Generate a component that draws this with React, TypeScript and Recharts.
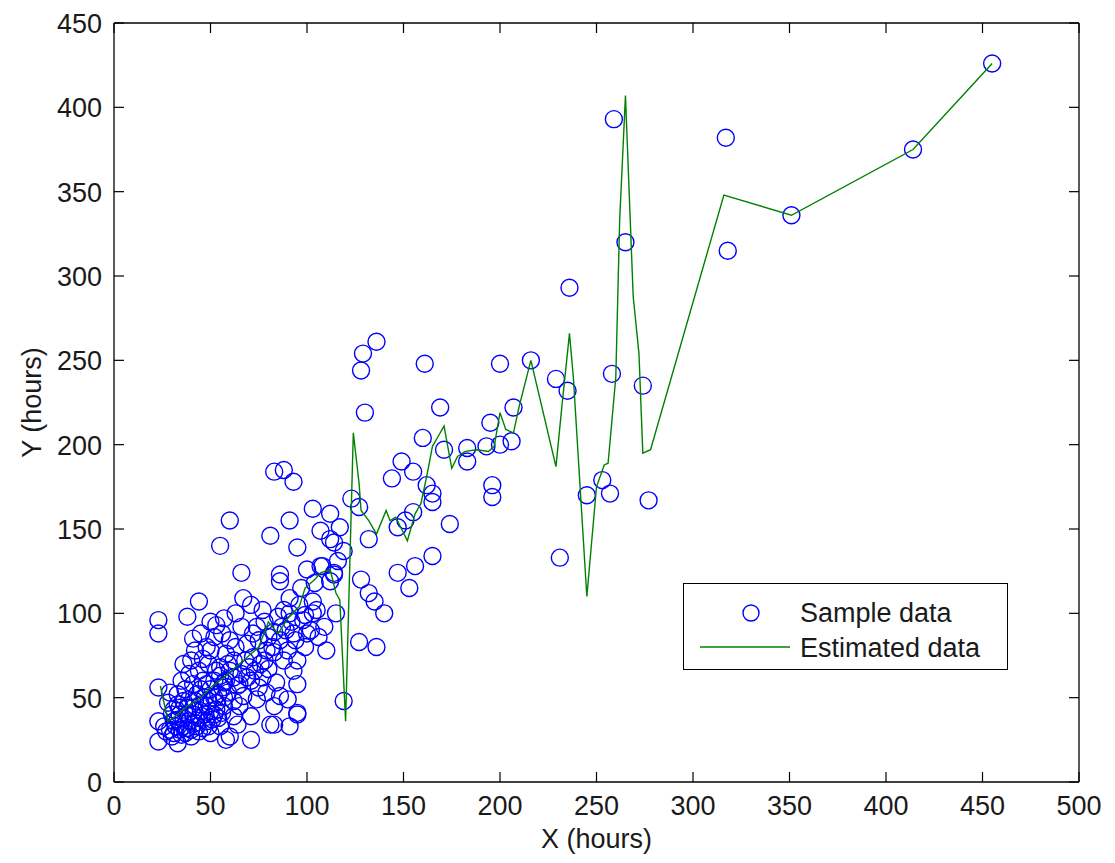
import React from 'react';
import { ScatterChart, Scatter, XAxis, YAxis, Legend, Label } from 'recharts';

const xTicks = [0, 50, 100, 150, 200, 250, 300, 350, 400, 450, 500];
const yTicks = [0, 50, 100, 150, 200, 250, 300, 350, 400, 450];

// sample data (x hours, y hours)
const sparsePoints: [number, number][] = [
  [455, 426], [414, 375], [351, 336], [317, 382], [318, 315],
  [259, 393], [265, 320], [236, 293], [258, 242], [216, 250], [200, 248], [229, 239], [235, 232],
  [274, 235], [207, 222], [195, 213], [193, 199], [200, 200], [206, 202], [196, 176], [196, 169],
  [245, 170], [253, 179], [257, 171], [277, 167], [231, 133],
  [136, 261], [129, 254], [128, 244], [130, 219], [161, 248], [169, 222], [160, 204], [183, 198],
  [183, 190], [171, 197], [149, 190], [155, 184], [144, 180], [162, 176], [165, 171], [165, 166],
  [174, 153], [155, 160], [147, 151], [151, 155], [123, 168], [127, 163], [132, 144], [93, 178],
  [88, 185], [103, 162], [112, 159], [91, 155], [107, 149], [95, 139], [117, 151], [114, 142],
  [108, 128], [114, 123], [128, 120], [132, 112], [135, 107], [140, 100], [147, 124], [156, 128],
  [165, 134], [153, 115], [115, 100], [127, 83], [136, 80], [119, 48],
];

const clusterPoints: [number, number][] = [
  [83, 184], [60, 155], [55, 140], [81, 146], [66, 124], [86, 123], [86, 119], [44, 107], [38, 98],
  [23, 96], [23, 88], [67, 109], [71, 105], [77, 102], [91, 109], [96, 105], [103, 107], [105, 102],
  [107, 128], [114, 124], [112, 119], [112, 144], [106, 86], [110, 78], [102, 90], [98, 96],
  [53, 93], [41, 85], [52, 86], [60, 84], [42, 78], [53, 66], [62, 72], [69, 82], [83, 89], [74, 92],
  [79, 78], [90, 78], [88, 72], [95, 72], [93, 66], [95, 58], [90, 49], [95, 41], [91, 33], [81, 34],
  [71, 25], [60, 27], [62, 39], [64, 34], [71, 39], [74, 49], [67, 51], [79, 53], [86, 51], [83, 45],
  [84, 59], [77, 62], [69, 62], [64, 57], [57, 59], [23, 56], [23, 36], [23, 24], [33, 23], [58, 25],
  [83, 34], [95, 40],
  [27, 30], [30, 27], [32, 33], [35, 28], [36, 38], [38, 32], [40, 27], [42, 35], [44, 30], [45, 42],
  [48, 36], [50, 29], [52, 40], [55, 33], [57, 45], [47, 50], [42, 48], [38, 44], [34, 44], [30, 40],
  [28, 47], [33, 52], [37, 55], [41, 58], [46, 60], [50, 55], [54, 52], [58, 60], [60, 66], [55, 68],
  [49, 70], [44, 66], [39, 64], [35, 60], [31, 36], [26, 33], [29, 53], [48, 45], [53, 47], [62, 48],
  [65, 45], [66, 64], [70, 68], [72, 74], [76, 70], [80, 67], [75, 84], [63, 80], [58, 76], [50, 78],
  [46, 73], [40, 72], [36, 70], [45, 88], [48, 80], [56, 88],
  [85, 98], [88, 102], [92, 95], [99, 99], [100, 88], [93, 88], [82, 80], [87, 92], [94, 84], [99, 80],
  [103, 100], [109, 92], [97, 115], [104, 118], [100, 126], [116, 131], [119, 137],
  [29, 31], [31, 29], [33, 37], [34, 31], [36, 33], [37, 29], [39, 36], [40, 31], [41, 40], [43, 33],
  [44, 38], [46, 32], [47, 40], [49, 33], [50, 42], [51, 37], [53, 43], [54, 38], [56, 41], [57, 50],
  [59, 53], [56, 56], [52, 50], [49, 48], [45, 46], [43, 52], [39, 49], [36, 48], [33, 46], [31, 43],
  [34, 40], [38, 40], [41, 44], [45, 55], [48, 58], [52, 60], [55, 63], [59, 70], [62, 62], [65, 58],
  [68, 72], [71, 60], [73, 66], [75, 56], [78, 72], [80, 86], [83, 77], [86, 84], [89, 90], [91, 100],
  [78, 95], [72, 88], [66, 92], [63, 100], [57, 97], [50, 95],
];

// estimated curve, in x order
const estimatedPoints: [number, number][] = [
  [24, 57], [28, 36], [33, 40], [38, 45], [45, 50], [50, 56], [57, 62], [65, 70], [70, 75], [75, 80],
  [80, 95], [85, 88], [90, 97], [96, 104], [99, 115], [104, 120], [107, 124], [112, 126], [115, 112],
  [117, 108], [120, 36], [124, 207], [127, 177], [128, 161], [132, 155], [136, 147], [141, 161],
  [143, 155], [146, 157], [149, 150], [152, 143], [156, 159], [159, 165], [162, 181], [165, 199],
  [168, 205], [171, 211], [175, 186], [178, 193], [182, 196], [188, 197], [194, 196], [197, 199],
  [200, 219], [203, 209], [207, 207], [210, 223], [216, 250], [229, 187], [232, 222], [236, 266],
  [238, 240], [245, 110], [250, 175], [254, 188], [256, 189], [260, 240], [262, 333], [265, 407],
  [269, 288], [272, 254], [274, 195], [278, 197], [316, 348], [351, 336], [414, 375], [455, 426],
];

const sampleData = [...clusterPoints, ...sparsePoints].map(([x, y]) => ({ x, y }));
const estimatedData = estimatedPoints.map(([x, y]) => ({ x, y }));
const frameData = [{ x: 0, y: 0 }, { x: 500, y: 450 }];

const FONT = '"Liberation Sans", Arial, sans-serif';
const TEXT = '#1a1a1a';
const BLUE = '#0000ff';
const GREEN = '#008000';

const BottomTick = (props: any) => {
  const { x, y, payload } = props;
  return (
    <g>
      <line x1={x} y1={y} x2={x} y2={y - 10} stroke="#000" strokeWidth={1.2} />
      <text x={x} y={y + 33} textAnchor="middle" fontSize={27} fontFamily={FONT} fill={TEXT}>
        {payload.value}
      </text>
    </g>
  );
};

const LeftTick = (props: any) => {
  const { x, y, payload } = props;
  return (
    <g>
      <line x1={x} y1={y} x2={x + 10} y2={y} stroke="#000" strokeWidth={1.2} />
      <text x={x - 12} y={y + 10} textAnchor="end" fontSize={27} fontFamily={FONT} fill={TEXT}>
        {payload.value}
      </text>
    </g>
  );
};

const TopTick = (props: any) => (
  <line x1={props.x} y1={props.y} x2={props.x} y2={props.y + 10} stroke="#000" strokeWidth={1.2} />
);

const RightTick = (props: any) => (
  <line x1={props.x} y1={props.y} x2={props.x - 10} y2={props.y} stroke="#000" strokeWidth={1.2} />
);

const XTitle = (props: any) => {
  const vb = props.viewBox || { x: 114, y: 782, width: 965, height: 60 };
  return (
    <text x={vb.x + vb.width / 2} y={vb.y + 66} textAnchor="middle" fontSize={27} fontFamily={FONT} fill={TEXT}>
      X (hours)
    </text>
  );
};

const YTitle = (props: any) => {
  const vb = props.viewBox || { x: 0, y: 23, width: 114, height: 759 };
  const cx = vb.x + 41;
  const cy = vb.y + vb.height / 2;
  return (
    <text x={cx} y={cy} transform={`rotate(-90, ${cx}, ${cy})`} textAnchor="middle" fontSize={27} fontFamily={FONT} fill={TEXT}>
      Y (hours)
    </text>
  );
};

const OpenCircle = (props: any) => (
  <circle cx={props.cx} cy={props.cy} r={8.5} fill="none" stroke={BLUE} strokeWidth={1.4} />
);

const NoMarker = () => <g />;

const LegendBox = () => (
  <div style={{ width: 325, height: 87, border: '1.3px solid #000', boxSizing: 'border-box', background: '#fff', position: 'relative' }}>
    <svg width={323} height={85} style={{ position: 'absolute', left: 0, top: 0 }}>
      <circle cx={67} cy={29} r={8} fill="none" stroke={BLUE} strokeWidth={1.4} />
      <line x1={16} x2={106} y1={63} y2={63} stroke={GREEN} strokeWidth={1.4} />
      <text x={116} y={38} fontSize={27} fontFamily={FONT} fill={TEXT}>Sample data</text>
      <text x={116} y={73} fontSize={27} fontFamily={FONT} fill={TEXT}>Estimated data</text>
    </svg>
  </div>
);

export default function App() {
  return (
    <div style={{ position: 'absolute', left: 0, top: 0, width: 1115, height: 863, background: '#fff' }}>
      <ScatterChart width={1115} height={863} margin={{ top: 22, right: 35, bottom: 21, left: 0 }}>
        <XAxis
          xAxisId="b"
          type="number"
          dataKey="x"
          domain={[0, 500]}
          ticks={xTicks}
          height={60}
          tickSize={0}
          tickMargin={0}
          tickLine={false}
          tick={<BottomTick />}
          axisLine={{ stroke: '#000', strokeWidth: 1.3 }}
        >
          <Label content={<XTitle />} />
        </XAxis>
        <XAxis
          xAxisId="t"
          orientation="top"
          type="number"
          dataKey="x"
          domain={[0, 500]}
          ticks={xTicks}
          height={1}
          tickSize={0}
          tickMargin={0}
          tickLine={false}
          tick={<TopTick />}
          axisLine={{ stroke: '#000', strokeWidth: 1.3 }}
        />
        <YAxis
          yAxisId="l"
          type="number"
          dataKey="y"
          domain={[0, 450]}
          ticks={yTicks}
          width={114}
          tickSize={0}
          tickMargin={0}
          tickLine={false}
          tick={<LeftTick />}
          axisLine={{ stroke: '#000', strokeWidth: 1.3 }}
        >
          <Label content={<YTitle />} />
        </YAxis>
        <YAxis
          yAxisId="r"
          orientation="right"
          type="number"
          dataKey="y"
          domain={[0, 450]}
          ticks={yTicks}
          width={1}
          tickSize={0}
          tickMargin={0}
          tickLine={false}
          tick={<RightTick />}
          axisLine={{ stroke: '#000', strokeWidth: 1.3 }}
        />
        <Legend
          layout="vertical"
          align="center"
          verticalAlign="middle"
          content={<LegendBox />}
          wrapperStyle={{ left: 683, top: 583, width: 325, height: 87 }}
        />
        <Scatter
          name="frame"
          data={frameData}
          xAxisId="t"
          yAxisId="r"
          shape={<NoMarker />}
          legendType="none"
          isAnimationActive={false}
        />
        <Scatter
          name="Sample data"
          data={sampleData}
          xAxisId="b"
          yAxisId="l"
          shape={<OpenCircle />}
          isAnimationActive={false}
        />
        <Scatter
          name="Estimated data"
          data={estimatedData}
          xAxisId="b"
          yAxisId="l"
          line={{ stroke: GREEN, strokeWidth: 1.4 }}
          shape={<NoMarker />}
          isAnimationActive={false}
        />
      </ScatterChart>
    </div>
  );
}
